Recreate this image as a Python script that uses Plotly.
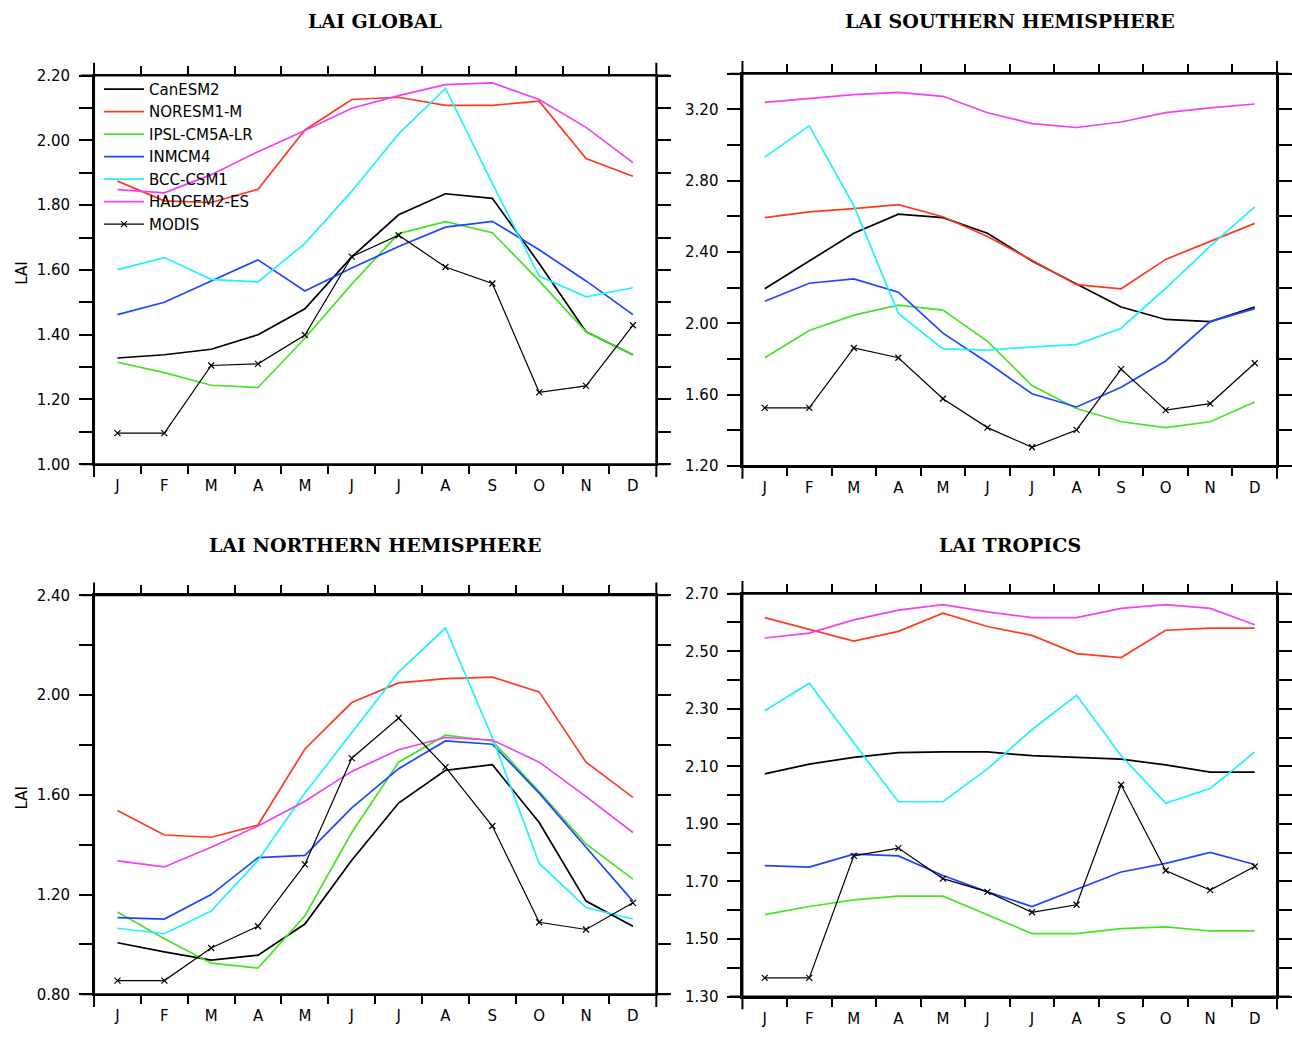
import plotly.graph_objects as go

W, H = 1292, 1039

months = ["J", "F", "M", "A", "M", "J", "J", "A", "S", "O", "N", "D"]
month_pos = list(range(1, 13))
month_edges = [m + 0.5 for m in range(1, 12)]

series_names = ["CanESM2", "NORESM1-M", "IPSL-CM5A-LR", "INMCM4", "BCC-CSM1", "HADCEM2-ES", "MODIS"]
series_colors = ["#000000", "#ff3a1e", "#44e424", "#1f44ff", "#22f0ff", "#f040f0", "#000000"]

# ---- LAI GLOBAL ----
glob_canesm2 = [1.328, 1.338, 1.355, 1.400, 1.480, 1.640, 1.770, 1.835, 1.821, 1.620, 1.409, 1.338]
glob_noresm = [1.874, 1.813, 1.808, 1.849, 2.032, 2.126, 2.133, 2.108, 2.108, 2.121, 1.944, 1.889]
glob_ipsl = [1.315, 1.283, 1.244, 1.237, 1.389, 1.556, 1.712, 1.749, 1.715, 1.566, 1.409, 1.338]
glob_inmcm = [1.462, 1.500, 1.566, 1.631, 1.535, 1.606, 1.672, 1.732, 1.750, 1.662, 1.566, 1.462]
glob_bcc = [1.601, 1.638, 1.571, 1.563, 1.682, 1.843, 2.020, 2.160, 1.867, 1.581, 1.517, 1.545]
glob_hadgem = [1.848, 1.838, 1.894, 1.965, 2.030, 2.099, 2.138, 2.172, 2.177, 2.126, 2.040, 1.931]
glob_modis = [1.096, 1.096, 1.305, 1.310, 1.399, 1.641, 1.707, 1.609, 1.558, 1.222, 1.242, 1.429]

# ---- LAI SOUTHERN HEMISPHERE ----
sh_canesm2 = [2.194, 2.350, 2.506, 2.613, 2.593, 2.506, 2.350, 2.221, 2.092, 2.022, 2.010, 2.092]
sh_noresm = [2.593, 2.626, 2.644, 2.666, 2.598, 2.488, 2.354, 2.217, 2.194, 2.359, 2.460, 2.561]
sh_ipsl = [1.807, 1.960, 2.046, 2.102, 2.074, 1.899, 1.651, 1.522, 1.448, 1.415, 1.448, 1.559]
sh_inmcm = [2.124, 2.225, 2.249, 2.175, 1.945, 1.780, 1.605, 1.531, 1.642, 1.789, 2.010, 2.083]
sh_bcc = [2.933, 3.108, 2.660, 2.056, 1.857, 1.850, 1.868, 1.881, 1.973, 2.197, 2.433, 2.654]
sh_hadgem = [3.240, 3.261, 3.283, 3.296, 3.274, 3.182, 3.121, 3.099, 3.130, 3.182, 3.209, 3.231]
sh_modis = [1.526, 1.526, 1.862, 1.807, 1.577, 1.415, 1.305, 1.402, 1.743, 1.513, 1.550, 1.776]

# ---- LAI NORTHERN HEMISPHERE ----
nh_canesm2 = [1.007, 0.970, 0.937, 0.957, 1.082, 1.338, 1.567, 1.698, 1.721, 1.489, 1.174, 1.073]
nh_noresm = [1.537, 1.439, 1.430, 1.479, 1.784, 1.970, 2.049, 2.066, 2.072, 2.013, 1.731, 1.590]
nh_ipsl = [1.130, 1.023, 0.925, 0.905, 1.115, 1.449, 1.731, 1.839, 1.816, 1.613, 1.403, 1.262]
nh_inmcm = [1.108, 1.102, 1.200, 1.348, 1.357, 1.548, 1.705, 1.816, 1.803, 1.607, 1.390, 1.174]
nh_bcc = [1.065, 1.043, 1.134, 1.338, 1.607, 1.849, 2.092, 2.269, 1.830, 1.325, 1.148, 1.102]
nh_hadgem = [1.335, 1.311, 1.390, 1.475, 1.574, 1.694, 1.781, 1.830, 1.820, 1.731, 1.593, 1.449]
nh_modis = [0.855, 0.855, 0.986, 1.073, 1.321, 1.747, 1.908, 1.711, 1.475, 1.089, 1.060, 1.167]

# ---- LAI TROPICS ----
tr_canesm2 = [2.074, 2.108, 2.131, 2.148, 2.150, 2.150, 2.137, 2.131, 2.125, 2.105, 2.080, 2.080]
tr_noresm = [2.617, 2.575, 2.535, 2.569, 2.632, 2.586, 2.555, 2.492, 2.478, 2.573, 2.580, 2.580]
tr_ipsl = [1.585, 1.613, 1.636, 1.649, 1.649, 1.585, 1.519, 1.519, 1.536, 1.542, 1.528, 1.528]
tr_inmcm = [1.755, 1.750, 1.795, 1.789, 1.721, 1.664, 1.613, 1.672, 1.733, 1.763, 1.801, 1.759]
tr_bcc = [2.293, 2.389, 2.182, 1.977, 1.977, 2.091, 2.228, 2.347, 2.137, 1.972, 2.023, 2.150]
tr_hadgem = [2.546, 2.563, 2.609, 2.643, 2.662, 2.637, 2.617, 2.617, 2.649, 2.662, 2.649, 2.592]
tr_modis = [1.365, 1.365, 1.789, 1.816, 1.710, 1.664, 1.593, 1.619, 2.036, 1.738, 1.670, 1.752]

panel_titles = ["LAI GLOBAL", "LAI SOUTHERN HEMISPHERE", "LAI NORTHERN HEMISPHERE", "LAI TROPICS"]
panel_series = [
    [glob_canesm2, glob_noresm, glob_ipsl, glob_inmcm, glob_bcc, glob_hadgem, glob_modis],
    [sh_canesm2, sh_noresm, sh_ipsl, sh_inmcm, sh_bcc, sh_hadgem, sh_modis],
    [nh_canesm2, nh_noresm, nh_ipsl, nh_inmcm, nh_bcc, nh_hadgem, nh_modis],
    [tr_canesm2, tr_noresm, tr_ipsl, tr_inmcm, tr_bcc, tr_hadgem, tr_modis],
]
# y ranges, label step, tick step
panel_yrange = [(1.0, 2.2), (1.2, 3.4), (0.8, 2.4), (1.3, 2.7)]
panel_ylabel_step = [0.2, 0.4, 0.4, 0.2]
panel_ytick_step = [0.1, 0.2, 0.2, 0.1]

# panel boxes in pixels (left, right, top, bottom)
boxes_px = [(95, 663, 67.7, 463.3), (750, 1290, 66, 465), (95, 663, 596.7, 1002.7), (750, 1290, 595, 1005)]


def px2paper_x(px):
    return px / W


def px2paper_y(py):
    return 1 - py / H


fig = go.Figure()
font_sans = "DejaVu Sans"

shapes = []
annotations = []
for p in range(4):
    l, r, t, b = boxes_px[p]
    xd = [px2paper_x(l), px2paper_x(r)]
    yd = [px2paper_y(b), px2paper_y(t)]
    sfx = "" if p == 0 else str(p + 1)
    y0, y1 = panel_yrange[p]
    ls = panel_ylabel_step[p]
    ts = panel_ytick_step[p]
    nlab = int(round((y1 - y0) / ls))
    labvals = [round(y0 + i * ls, 3) for i in range(nlab + 1) if y0 + i * ls <= y1 + 1e-9]
    ntick = int(round((y1 - y0) / ts))
    tickvals_minor = [round(y0 + i * ts, 3) for i in range(ntick + 1)]

    fig.layout["xaxis" + sfx] = dict(
        domain=xd, anchor="y" + sfx, range=[0.5, 12.5],
        tickvals=month_pos, ticktext=months, ticks="", ticklen=0,
        showgrid=False, zeroline=False, showline=True, linecolor="black", linewidth=2,
        mirror="ticks",
        minor=dict(tickvals=month_edges, ticks="outside", ticklen=8, tickwidth=2, tickcolor="black", showgrid=False),
        tickfont=dict(family=font_sans, size=15, color="black"),
        ticklabelstandoff=7,
    )
    fig.layout["yaxis" + sfx] = dict(
        domain=yd, anchor="x" + sfx, range=[y0, y1],
        tickvals=labvals, tickformat=".2f", ticks="outside", ticklen=13, tickwidth=2, tickcolor="black",
        showgrid=False, zeroline=False, showline=True, linecolor="black", linewidth=2,
        mirror="ticks",
        minor=dict(tickvals=tickvals_minor, ticks="outside", ticklen=13, tickwidth=2, tickcolor="black", showgrid=False),
        tickfont=dict(family=font_sans, size=15, color="black"),
        ticklabelstandoff=6,
    )

    for k, (name, col, vals) in enumerate(zip(series_names, series_colors, panel_series[p])):
        is_obs = name == "MODIS"
        fig.add_trace(go.Scatter(
            x=month_pos, y=vals, name=name,
            mode="lines+markers" if is_obs else "lines",
            line=dict(color=col, width=1.2 if is_obs else 1.7),
            marker=dict(symbol="x-thin", size=6, line=dict(width=1.2, color=col)) if is_obs else None,
            xaxis="x" + sfx, yaxis="y" + sfx,
            showlegend=(p == 0), legendgroup=name,
        ))

    # extended frame lines (GrADS style)
    ext = 13
    for yy in (t, b):
        shapes.append(dict(type="line", xref="paper", yref="paper",
                           x0=px2paper_x(l - ext), x1=px2paper_x(r + ext),
                           y0=px2paper_y(yy), y1=px2paper_y(yy),
                           line=dict(color="black", width=2)))
    for xx in (l, r):
        shapes.append(dict(type="line", xref="paper", yref="paper",
                           x0=px2paper_x(xx), x1=px2paper_x(xx),
                           y0=px2paper_y(t - ext), y1=px2paper_y(b + ext),
                           line=dict(color="black", width=2)))

    title_y = 12 if p < 2 else 545
    annotations.append(dict(text="<b>" + panel_titles[p] + "</b>", xref="paper", yref="paper",
                            x=px2paper_x((l + r) / 2), y=px2paper_y(title_y),
                            xanchor="center", yanchor="middle", showarrow=False,
                            font=dict(family="DejaVu Serif", size=19, color="black")))
    if p in (0, 2):
        annotations.append(dict(text="LAI", xref="paper", yref="paper",
                                x=px2paper_x(22), y=px2paper_y((t + b) / 2 + 3),
                                xanchor="center", yanchor="middle", showarrow=False, textangle=-90,
                                font=dict(family=font_sans, size=15, color="black")))

fig.update_layout(
    width=W, height=H,
    margin=dict(l=0, r=0, t=0, b=0),
    paper_bgcolor="white", plot_bgcolor="white",
    shapes=shapes, annotations=annotations,
    legend=dict(x=px2paper_x(100), y=px2paper_y(65), xanchor="left", yanchor="top",
                bgcolor="rgba(0,0,0,0)", borderwidth=0, itemwidth=40, tracegroupgap=0,
                font=dict(family=font_sans, size=15, color="black")),
)

fig.write_html("out.html")
